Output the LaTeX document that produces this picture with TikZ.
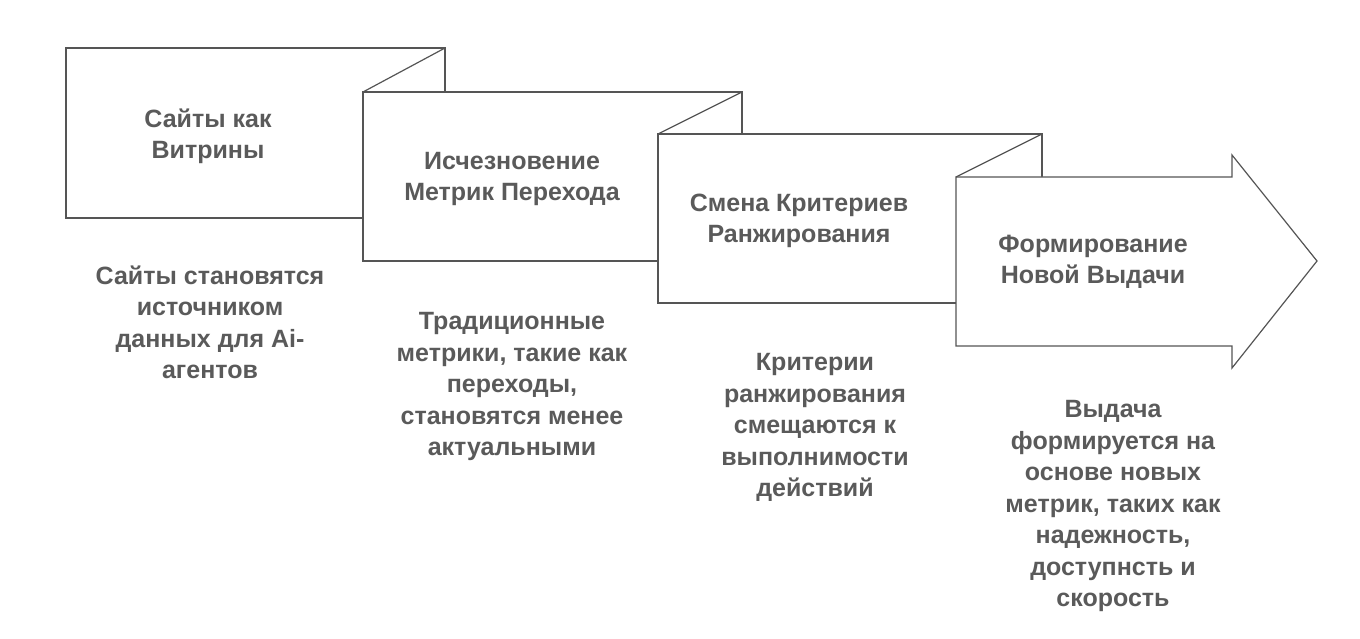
\documentclass[tikz,border=0pt]{standalone}
\usepackage{fontspec}
\setmainfont{Liberation Sans}
\usetikzlibrary{positioning}
\definecolor{txtgray}{HTML}{5A5A5A}
\definecolor{linegray}{HTML}{555555}
\tikzset{
  panel/.style={draw=linegray, fill=white, line width=1.2pt},
  fold/.style={draw=linegray, line width=1.2pt},
  title/.style={text=txtgray, font=\bfseries\fontsize{25}{31}\selectfont, align=center},
  desc/.style={text=txtgray, font=\bfseries\fontsize{25}{31.5}\selectfont, align=center}
}
\begin{document}
\begin{tikzpicture}[x=1pt, y=-1pt]
  \useasboundingbox (0,0) rectangle (1360,639);
  % panels, back to front
  \draw[panel] (66,48) rectangle (445,218);
  \draw[panel] (363,92) rectangle (742,261);
  \draw[panel] (658,134) rectangle (1042,303);
  \draw[panel] (956,177) -- (1232,177) -- (1232,155) -- (1317,261)
    -- (1232,368) -- (1232,346) -- (956,346) -- cycle;
  % folds
  \draw[fold] (445,48) -- (363,92);
  \draw[fold] (742,92) -- (658,134);
  \draw[fold] (1042,134) -- (956,177);
  % titles
  \node[title] (t1) at (208,136) {Сайты как\\Витрины};
  \node[title] (t2) at (512,179) {Исчезновение\\Метрик Перехода};
  \node[title] (t3) at (799,221) {Смена Критериев\\Ранжирования};
  \node[title] (t4) at (1093,262) {Формирование\\Новой Выдачи};
  % descriptions
  \node[desc, anchor=north] (d1) at (210,262) {Сайты становятся\\источником\\данных для Ai-\\агентов};
  \node[desc, anchor=north] (d2) at (512,309) {Традиционные\\метрики, такие как\\переходы,\\становятся менее\\актуальными};
  \node[desc, anchor=north] (d3) at (815,350) {Критерии\\ранжирования\\смещаются к\\выполнимости\\действий};
  \node[desc, anchor=north] (d4) at (1113,397) {Выдача\\формируется на\\основе новых\\метрик, таких как\\надежность,\\доступнсть и\\скорость};
\end{tikzpicture}
\end{document}
